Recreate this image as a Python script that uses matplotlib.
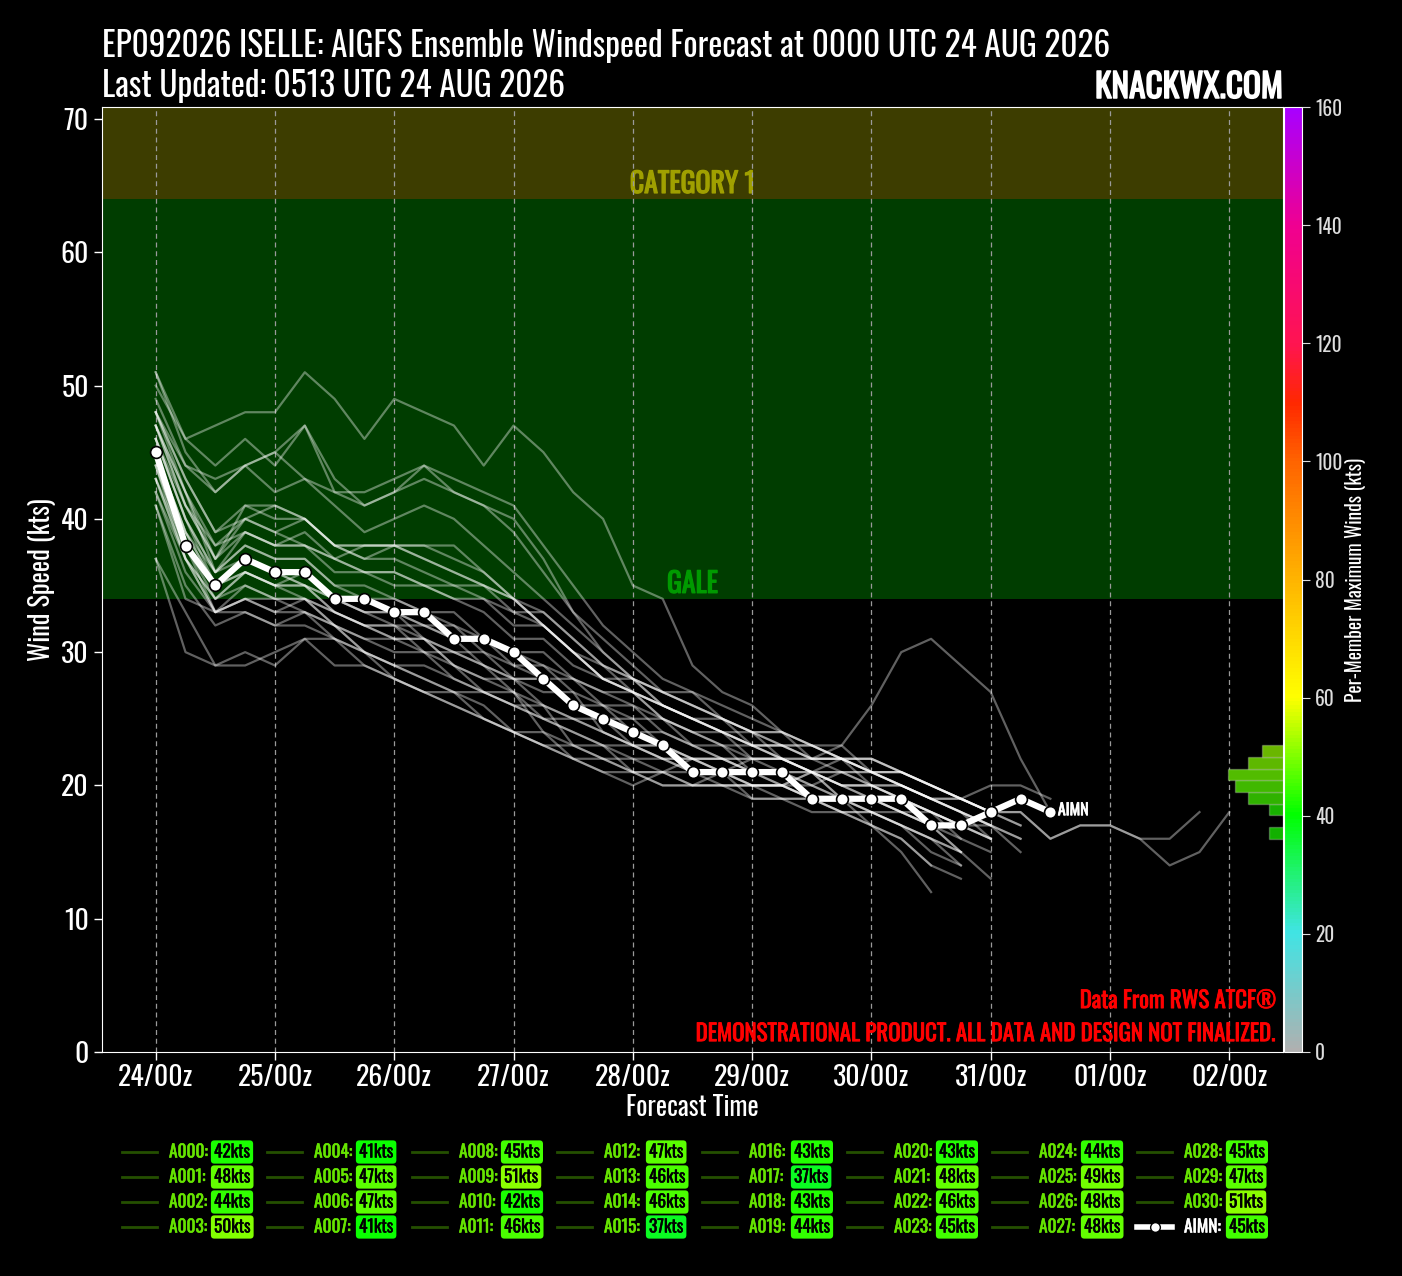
import numpy as np
import matplotlib
matplotlib.use("Agg")
import matplotlib.pyplot as plt
import matplotlib.patheffects as pe
from matplotlib import font_manager
from matplotlib.colors import LinearSegmentedColormap, Normalize
from matplotlib.cm import ScalarMappable

# ---- datos ----
step_h = 6
day_labels = ["24/00z", "25/00z", "26/00z", "27/00z", "28/00z",
              "29/00z", "30/00z", "31/00z", "01/00z", "02/00z"]

member_names = ["A%03d" % i for i in range(31)]
member_peak = [42, 48, 44, 50, 41, 47, 47, 41, 45, 51, 42, 46, 47, 46, 46, 37,
               43, 37, 43, 44, 43, 48, 46, 45, 44, 49, 48, 48, 45, 47, 51]
aimn_peak = 45

a000 = [42, 36, 33, 34, 33, 33, 32, 31, 30, 30, 28, 27, 27, 24, 23, 23, 21, 21, 20, 21, 19, 19, 19, 18, 18, 17, 16, 15]
a001 = [48, 44, 43, 44, 45, 47, 43, 41, 42, 43, 42, 41, 40, 37, 33, 30, 28, 27, 26, 25, 24, 23, 23, 22, 21, 21, 20, 19, 18, 17]
a002 = [44, 37, 34, 35, 34, 34, 33, 32, 31, 31, 29, 27, 26, 26, 23, 22, 22, 21, 22, 21, 20, 20, 20, 19, 19, 18, 17]
a003 = [50, 46, 44, 46, 44, 47, 42, 41, 42, 44, 42, 41, 39, 36, 33, 31, 29, 27, 26, 25, 24, 24, 23, 22, 22, 21, 20, 19, 18]
a004 = [41, 35, 32, 33, 32, 32, 31, 30, 28, 27, 27, 25, 24, 24, 22, 21, 20, 21, 20, 20, 20, 20, 19, 18, 18, 17, 15, 14]
a005 = [47, 41, 37, 41, 40, 40, 38, 37, 37, 36, 35, 35, 33, 33, 31, 29, 28, 27, 27, 25, 24, 24, 22, 22, 21, 20, 19, 18, 16]
a006 = [47, 42, 36, 39, 38, 39, 37, 38, 38, 37, 36, 35, 34, 32, 30, 28, 27, 25, 24, 23, 22, 22, 21, 20, 19, 18, 17, 15]
a007 = [41, 34, 33, 33, 32, 33, 31, 29, 28, 27, 26, 25, 24, 23, 22, 22, 21, 21, 21, 20, 20, 19, 18, 18, 17, 16, 14, 13]
a008 = [45, 39, 35, 37, 36, 36, 34, 33, 33, 32, 31, 31, 29, 28, 28, 26, 25, 25, 23, 22, 22, 22, 21, 20, 20, 19, 18, 17, 16]
a009 = [51, 46, 47, 48, 48, 51, 49, 46, 49, 48, 47, 44, 47, 45, 42, 40, 35, 34, 29, 27, 26, 24, 23, 23, 26, 30, 31, 29, 27, 22, 18]
a010 = [42, 37, 33, 34, 33, 34, 32, 30, 29, 28, 27, 27, 26, 25, 25, 24, 23, 23, 22, 21, 20, 20, 19, 19, 17, 16, 14]
a011 = [46, 40, 36, 38, 37, 37, 35, 34, 34, 33, 32, 31, 30, 29, 28, 27, 26, 25, 24, 23, 23, 22, 21, 21, 21, 20, 19, 19, 18, 18, 16, 17, 17, 16, 14, 15, 18]
a012 = [47, 41, 37, 40, 39, 40, 38, 38, 38, 37, 36, 35, 34, 33, 31, 29, 27, 26, 25, 24, 23, 22, 22, 21, 21, 20, 19, 18, 17]
a013 = [46, 40, 35, 37, 36, 35, 34, 33, 32, 32, 31, 29, 28, 28, 26, 26, 24, 24, 23, 22, 22, 22, 21, 20, 20, 19, 18, 16]
a014 = [46, 41, 38, 39, 38, 38, 36, 36, 36, 35, 34, 34, 33, 32, 30, 28, 27, 26, 25, 24, 23, 22, 21, 21, 20, 20, 19, 19, 18, 18, 16, 17, 17, 16, 16, 18]
a015 = [37, 30, 29, 30, 29, 31, 29, 29, 28, 27, 26, 25, 24, 23, 23, 22, 21, 20, 20, 20, 20, 20, 19, 19, 18, 17, 16, 15]
a016 = [43, 37, 34, 36, 35, 36, 34, 33, 33, 31, 30, 30, 28, 27, 27, 24, 23, 23, 22, 22, 21, 21, 21, 20, 20, 19, 18, 17, 16]
a017 = [37, 33, 29, 29, 30, 31, 31, 30, 29, 29, 28, 27, 26, 25, 24, 23, 23, 22, 21, 21, 22, 21, 20, 19, 19, 18, 17, 16, 15]
a018 = [43, 38, 33, 35, 34, 34, 32, 31, 31, 30, 29, 28, 27, 26, 25, 24, 23, 22, 21, 21, 20, 20, 19, 19, 18, 18, 17, 15, 13]
a019 = [44, 38, 35, 36, 35, 35, 33, 32, 32, 31, 30, 29, 27, 25, 24, 23, 22, 22, 22, 22, 21, 21, 21, 20, 19, 19, 18, 17]
a020 = [43, 37, 33, 34, 34, 33, 32, 30, 29, 28, 27, 26, 24, 23, 22, 21, 21, 20, 20, 20, 19, 19, 19, 18, 17, 15, 12]
a021 = [48, 43, 39, 41, 41, 40, 38, 38, 38, 38, 37, 36, 34, 32, 30, 28, 27, 26, 25, 24, 23, 23, 22, 22, 22, 21, 20, 19, 20, 20, 19]
a022 = [46, 40, 36, 38, 37, 37, 35, 35, 34, 33, 33, 31, 30, 30, 28, 27, 27, 25, 24, 24, 22, 22, 21, 22, 20, 20, 19, 18, 17]
a023 = [45, 39, 35, 36, 35, 35, 33, 32, 31, 31, 29, 28, 28, 26, 25, 25, 23, 22, 22, 21, 21, 20, 21, 19, 18, 17, 16, 14]
a024 = [44, 38, 34, 36, 35, 34, 33, 32, 32, 30, 30, 29, 28, 28, 26, 25, 25, 23, 22, 22, 21, 20, 21, 19, 19, 18, 18, 17, 17, 16]
a025 = [49, 44, 42, 44, 42, 43, 41, 39, 40, 41, 40, 38, 36, 34, 32, 30, 28, 27, 26, 25, 24, 23, 23, 22, 21, 21, 20, 19, 18]
a026 = [48, 43, 39, 40, 41, 40, 38, 37, 38, 38, 38, 36, 34, 32, 30, 28, 27, 26, 25, 24, 23, 23, 22, 22, 21, 21, 20, 19, 18]
a027 = [48, 42, 37, 39, 38, 38, 37, 36, 36, 35, 35, 34, 32, 32, 30, 29, 28, 26, 25, 25, 23, 23, 22, 23, 21, 20, 19, 18, 17, 16]
a028 = [45, 39, 36, 37, 36, 35, 34, 34, 33, 32, 32, 30, 29, 29, 27, 26, 26, 24, 23, 23, 21, 21, 20, 21, 20, 19, 18, 17, 16]
a029 = [47, 42, 38, 40, 39, 38, 37, 36, 35, 35, 34, 33, 31, 31, 29, 28, 28, 26, 25, 24, 24, 22, 22, 22, 21, 20, 19, 18, 17, 15]
a030 = [51, 45, 42, 44, 45, 43, 42, 42, 43, 44, 43, 42, 41, 38, 35, 32, 30, 28, 27, 26, 25, 24, 23, 22, 22, 21, 20, 19, 18, 17]

members = [a000, a001, a002, a003, a004, a005, a006, a007, a008, a009, a010,
           a011, a012, a013, a014, a015, a016, a017, a018, a019, a020,
           a021, a022, a023, a024, a025, a026, a027, a028, a029, a030]

aimn = [45, 38, 35, 37, 36, 36, 34, 34, 33, 33, 31, 31, 30, 28, 26, 25,
        24, 23, 21, 21, 21, 21, 19, 19, 19, 19, 17, 17, 18, 19, 18]

# histograma lateral (kts)
hist_low, hist_high = 16, 23
hist_counts = [2, 0, 2, 5, 7, 8, 5, 3]

# ---- estilo ----
hist_colors = ["#12b000", "#12b000", "#18b000", "#30b200", "#40b800",
               "#52bc00", "#5eb800", "#6ab600"]
cmap_stops = [(0, "#b0b0b0"), (20, "#40e4e4"), (40, "#00ff00"), (60, "#ffff00"),
              (80, "#ffb400"), (100, "#ff6400"), (110, "#ff2800"), (120, "#ff1450"),
              (140, "#f00090"), (160, "#a800ff")]

available = {f.name for f in font_manager.fontManager.ttflist}
FONT = "DejaVu Sans"
for cand in ["Oswald", "Roboto Condensed", "Liberation Sans Narrow", "Open Sans Condensed"]:
    if cand in available:
        FONT = cand
        break
plt.rcParams["font.family"] = [FONT, "DejaVu Sans"]


def negrita(color, w=0.6):
    # la fuente solo tiene un peso: se engrosa con un trazo fino
    return [pe.withStroke(linewidth=w, foreground=color)]


W, H = 1402, 1276
fig = plt.figure(figsize=(W / 100, H / 100), dpi=100, facecolor="black")


def fx(px):
    return px / W


def fy(py):
    return 1 - py / H


ax = fig.add_axes([fx(102), fy(1052), fx(1283) - fx(102), fy(107) - fy(1052)])
ax.set_facecolor("black")

ax.axhspan(34, 64, color="#003d00", zorder=0, lw=0)
ax.axhspan(64, 90, color="#3d3d00", zorder=0, lw=0)
ax.text(108, 64.45, "CATEGORY 1", color="#a0a000", fontsize=20,
        ha="center", va="baseline", zorder=1, path_effects=negrita("#a0a000", 0.9))
ax.text(108, 34.45, "GALE", color="#009a00", fontsize=20,
        ha="center", va="baseline", zorder=1, path_effects=negrita("#009a00", 0.9))

for serie in members:
    t = np.arange(len(serie)) * step_h
    ax.plot(t, serie, color="white", alpha=0.38, lw=1.6, zorder=2)

t_mean = np.arange(len(aimn)) * step_h
ax.plot(t_mean, aimn, color="white", lw=4.5, marker="o", ms=8.5, mfc="white",
        mec="black", mew=1.2, zorder=5)
ax.text(t_mean[-1] + 1.5, aimn[-1] + 0.1, "AIMN", color="white", fontsize=11.5,
        ha="left", va="center", zorder=6, path_effects=negrita("white", 0.5))

ax.set_xlim(-10.8, 226.8)
ax.set_ylim(0, 70.9)
ax.set_xticks(np.arange(len(day_labels)) * 24)
ax.set_xticklabels(day_labels)
ax.set_yticks(np.arange(0, 71, 10))
ax.grid(axis="x", color="#9a9a9a", ls=(0, (4, 3)), lw=0.9, zorder=1)
ax.tick_params(colors="white", labelsize=20, length=6, width=1)
ax.tick_params(axis="x", pad=3)
for sp in ax.spines.values():
    sp.set_color("white")
ax.set_xlabel("Forecast Time", color="white", fontsize=19, labelpad=2)
ax.set_ylabel("Wind Speed (kts)", color="white", fontsize=19, labelpad=3)

# histograma horizontal pegado al borde derecho
axh = ax.twiny()
axh.set_xlim(171, 0)
edges = np.linspace(hist_low, hist_high, len(hist_counts) + 1)
centers = (edges[:-1] + edges[1:]) / 2
axh.barh(centers, hist_counts, height=edges[1] - edges[0], color=hist_colors,
         edgecolor=(1, 1, 1, 0.25), lw=1, zorder=4)
axh.set_xticks([])
for sp in axh.spines.values():
    sp.set_visible(False)

# barra de colores
cmap = LinearSegmentedColormap.from_list(
    "knack", [(v / 160, c) for v, c in cmap_stops])
norm = Normalize(0, 160)
cax = fig.add_axes([fx(1284), fy(1052), fx(1302) - fx(1284), fy(107) - fy(1052)])
cb = fig.colorbar(ScalarMappable(norm=norm, cmap=cmap), cax=cax)
cb.set_ticks(np.arange(0, 161, 20))
cb.outline.set_edgecolor("white")
cax.tick_params(colors="#dddddd", labelsize=14, length=6)
cb.set_label("Per-Member Maximum Winds (kts)", color="white", fontsize=14, labelpad=2)

# titulos
fig.text(fx(102), fy(57), "EP092026 ISELLE: AIGFS Ensemble Windspeed Forecast at 0000 UTC 24 AUG 2026",
         color="white", fontsize=24, ha="left", va="baseline")
fig.text(fx(102), fy(97), "Last Updated: 0513 UTC 24 AUG 2026",
         color="white", fontsize=24, ha="left", va="baseline")
fig.text(fx(1283), fy(98), "KNACKWX.COM", color="white", fontsize=24,
         ha="right", va="baseline", path_effects=negrita("white", 1.1))

ax.text(0.9945, 0.0465, "Data From RWS ATCF\u00ae", transform=ax.transAxes, color="red",
        fontsize=16.5, ha="right", va="baseline", zorder=6, path_effects=negrita("red", 0.6))
ax.text(0.9945, 0.0115, "DEMONSTRATIONAL PRODUCT. ALL DATA AND DESIGN NOT FINALIZED.",
        transform=ax.transAxes, color="red", fontsize=16.5,
        ha="right", va="baseline", zorder=6, path_effects=negrita("red", 0.6))

# leyenda manual 8 columnas x 4 filas
labels = member_names + ["AIMN"]
peaks = member_peak + [aimn_peak]
for i, (name, pk) in enumerate(zip(labels, peaks)):
    col, row = divmod(i, 4)
    x0 = 122 + col * 145
    yc = 1152 + row * 25
    if name == "AIMN":
        fig.add_artist(plt.Line2D([fx(x0), fx(x0 + 35)], [fy(yc), fy(yc)],
                                  color="white", lw=4))
        fig.add_artist(plt.Line2D([fx(x0 + 17.5)], [fy(yc)], color="white", marker="o",
                                  ms=7, mfc="white", mec="black", mew=1))
        name_col = "white"
    else:
        fig.add_artist(plt.Line2D([fx(x0), fx(x0 + 35)], [fy(yc), fy(yc)],
                                  color="#244f00", lw=2))
        name_col = "#66e400"
    fig.text(fx(x0 + 47), fy(yc), name + ":", color=name_col, fontsize=12.5,
             ha="left", va="center", path_effects=negrita(name_col, 0.4))
    fig.text(fx(x0 + 92), fy(yc), "%dkts" % pk, color="black", fontsize=12.5,
             ha="left", va="center", path_effects=negrita("black", 0.3),
             bbox=dict(boxstyle="round,pad=0.18,rounding_size=0.2",
                       fc=cmap(norm(pk)), ec="none"))

fig.savefig("out.png", dpi=100, facecolor="black")
